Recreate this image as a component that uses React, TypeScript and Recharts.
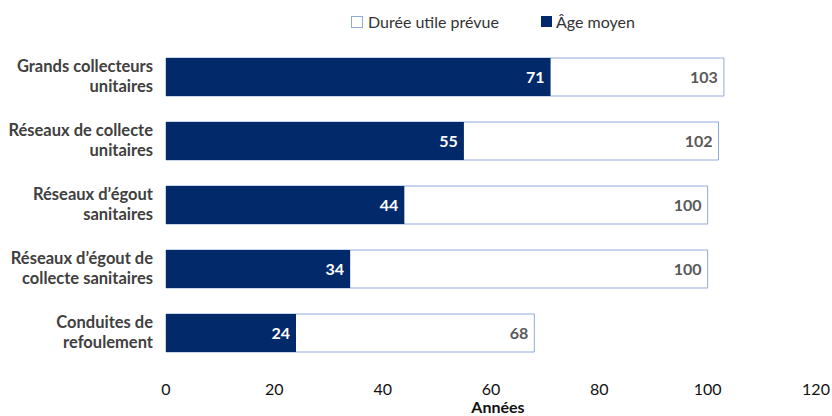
import React from "react";
import { BarChart, Bar, XAxis, YAxis, LabelList, Legend } from "recharts";

const categories = [
  "Grands collecteurs|unitaires",
  "Réseaux de collecte|unitaires",
  "Réseaux d’égout|sanitaires",
  "Réseaux d’égout de|collecte sanitaires",
  "Conduites de|refoulement",
];
const dureeUtile = [103, 102, 100, 100, 68];
const ageMoyen = [71, 55, 44, 34, 24];
const xTicks = [0, 20, 40, 60, 80, 100, 120];

const data = categories.map((name, i) => ({
  name,
  duree: dureeUtile[i],
  age: ageMoyen[i],
}));

const NAVY = "#022A6B";
const BORDER = "#8EAADB";
const FONT = "Lato, 'Open Sans', sans-serif";

const YTick = (props: any) => {
  const { x, y, payload } = props;
  const lines = String(payload.value).split("|");
  return (
    <text
      x={x - 11}
      y={y}
      textAnchor="end"
      fill="#404040"
      fontFamily={FONT}
      fontWeight="bold"
      fontSize={16.5}
    >
      {lines.map((l, i) => (
        <tspan key={i} x={x - 11} dy={i === 0 ? -5 : 20}>
          {l}
        </tspan>
      ))}
    </text>
  );
};

const LegendContent = () => (
  <div
    style={{
      display: "flex",
      fontFamily: FONT,
      fontSize: 16,
      color: "#333",
      alignItems: "center",
    }}
  >
    <span
      style={{
        display: "inline-block",
        width: 10,
        height: 10,
        border: `1px solid ${BORDER}`,
        background: "#fff",
        marginRight: 5,
      }}
    />
    <span style={{ marginRight: 42 }}>Durée utile prévue</span>
    <span
      style={{
        display: "inline-block",
        width: 11,
        height: 11,
        background: NAVY,
        marginRight: 4,
      }}
    />
    <span>Âge moyen</span>
  </div>
);

export default function App() {
  return (
    <div style={{ position: "absolute", left: 0, top: 0, background: "#fff" }}>
      <BarChart
        width={832}
        height={416}
        data={data}
        layout="vertical"
        margin={{ top: 45, right: 16, bottom: 0, left: 0 }}
        barGap={-38}
      >
        <Legend
          layout="horizontal"
          verticalAlign="middle"
          align="center"
          content={<LegendContent />}
          wrapperStyle={{ position: "absolute", top: 12, left: 351, width: "auto" }}
        />
        <XAxis
          type="number"
          domain={[0, 120]}
          ticks={xTicks}
          axisLine={false}
          tickLine={false}
          tickSize={0}
          tickMargin={19}
          height={51}
          tick={{ fill: "#111", fontSize: 16, fontFamily: FONT }}
          label={{
            value: "Années",
            position: "insideBottom",
            offset: 0,
            dx: 7,
            dy: -3,
            fill: "#111",
            fontWeight: "bold",
            fontSize: 16,
            fontFamily: FONT,
          }}
        />
        <YAxis
          type="category"
          dataKey="name"
          width={166}
          axisLine={false}
          tickLine={false}
          tickSize={0}
          tick={<YTick />}
          interval={0}
        />
        <Bar
          dataKey="duree"
          name="Durée utile prévue"
          fill="#ffffff"
          stroke={BORDER}
          strokeWidth={1}
          barSize={38}
          isAnimationActive={false}
        >
          <LabelList
            dataKey="duree"
            position="insideRight"
            offset={6}
            fill="#595959"
            fontWeight="bold"
            fontSize={16}
            fontFamily={FONT}
          />
        </Bar>
        <Bar
          dataKey="age"
          name="Âge moyen"
          fill={NAVY}
          barSize={38}
          isAnimationActive={false}
        >
          <LabelList
            dataKey="age"
            position="insideRight"
            offset={6}
            fill="#ffffff"
            fontWeight="bold"
            fontSize={16}
            fontFamily={FONT}
          />
        </Bar>
      </BarChart>
    </div>
  );
}
